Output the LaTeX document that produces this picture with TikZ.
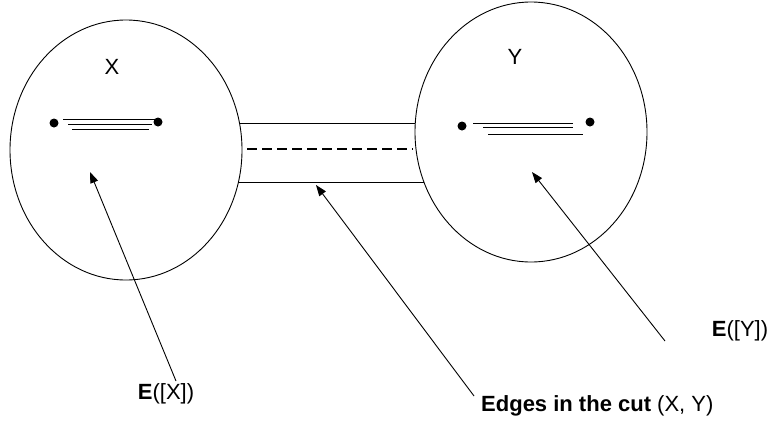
\documentclass[tikz,border=0pt]{standalone}
\usepackage{fontspec}
\setmainfont{Liberation Sans}
\usetikzlibrary{arrows.meta}
\begin{document}
\begin{tikzpicture}[x=1pt,y=-1pt,
  set/.style={draw,line width=0.9pt},
  vtx/.style={circle,fill=black,inner sep=0pt,minimum size=9pt},
  edgeln/.style={line width=0.9pt},
  cutln/.style={line width=0.9pt},
  ptr/.style={line width=0.9pt,-{Triangle[length=11pt,width=8pt]}},
  lbl/.style={font=\fontsize{22}{25}\selectfont,inner sep=0pt}]
\useasboundingbox (0,0) rectangle (770,424);
% sets
\draw[set] (126,150) ellipse [x radius=116, y radius=130];
\draw[set] (531,132) ellipse [x radius=116, y radius=130];
\node[lbl] (xl) at (112,67) {X};
\node[lbl] (yl) at (515,57) {Y};
% X edges
\node[vtx] (x1) at (54,123) {};
\node[vtx] (x2) at (158,122) {};
\draw[edgeln] (63,119) -- (155,119);
\draw[edgeln] (68,124) -- (152,124);
\draw[edgeln] (72,129) -- (149,129);
% Y edges
\node[vtx] (y1) at (462,126) {};
\node[vtx] (y2) at (590,122) {};
\draw[edgeln] (473,123) -- (573,123);
\draw[edgeln] (483,127) -- (573,127);
\draw[edgeln] (488,134) -- (583,134);
% cut band
\draw[cutln] (239.5,123) -- (415,123);
\draw[cutln] (238.4,182) -- (424,182);
\draw[line width=1.8pt,dash pattern=on 10pt off 5pt] (247,149) -- (413,149);
% labels
\node[lbl] (ex) at (166,394) {\textbf{E}([X])};
\node[lbl,anchor=west] (ecut) at (481,406) {\textbf{Edges in the cut} (X, Y)};
\node[lbl] (ey) at (740,331) {\textbf{E}([Y])};
\coordinate (tx) at (90,172);
\coordinate (tc) at (316,185);
\coordinate (ty) at (532,172);
\coordinate (sx) at (176,381);
\coordinate (sc) at (474,396);
\coordinate (sy) at (665,341);
\draw[ptr] (sx) -- (tx);
\draw[ptr] (sc) -- (tc);
\draw[ptr] (sy) -- (ty);
\end{tikzpicture}
\end{document}
